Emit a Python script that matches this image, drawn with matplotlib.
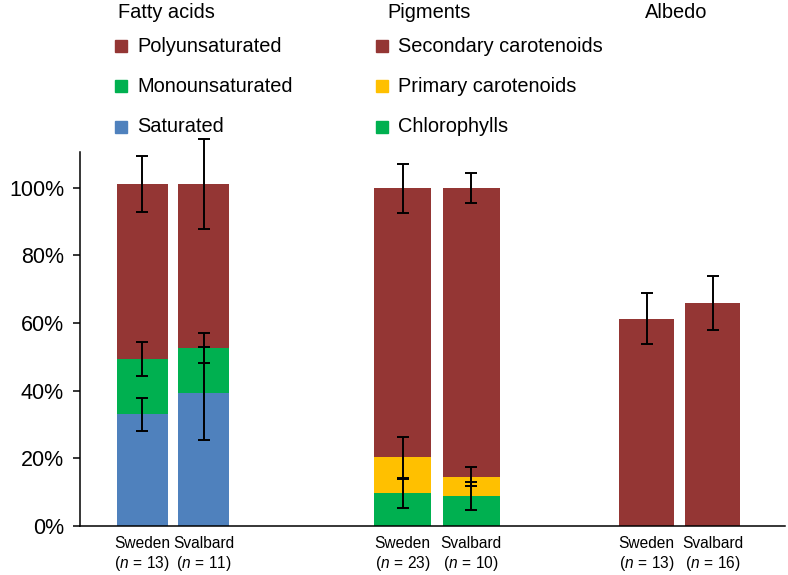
import matplotlib
matplotlib.use("Agg")
import matplotlib.pyplot as plt
import matplotlib.patches as patches
import numpy as np

plt.rcParams['font.family'] = ['Liberation Sans', 'DejaVu Sans']
plt.rcParams['mathtext.fontset'] = 'custom'
plt.rcParams['mathtext.rm'] = 'Liberation Sans'
plt.rcParams['mathtext.it'] = 'Liberation Sans:italic'

# colours (Excel-like palette of the reference)
RED = '#943634'
GREEN = '#00B050'
BLUE = '#4F81BD'
YELLOW = '#FFC000'

sites = ['Sweden', 'Svalbard']

# fatty acids (% of total), stacked bottom to top
fa_n = [13, 11]
fa_saturated = [33.0, 39.2]
fa_saturated_err = [4.8, 13.8]
fa_mono = [16.3, 13.4]
fa_mono_err = [5.1, 4.3]
fa_poly = [51.7, 48.4]
fa_poly_err = [8.3, 13.2]

# pigments (% of total), stacked bottom to top
pig_n = [23, 10]
pig_chl = [9.7, 8.8]
pig_chl_err = [4.3, 4.1]
pig_primary = [10.6, 5.8]
pig_primary_err = [6.0, 2.7]
pig_secondary = [79.5, 85.2]
pig_secondary_err = [7.2, 4.4]

# albedo (%)
alb_n = [13, 16]
albedo = [61.3, 66.0]
albedo_err = [7.5, 8.0]

yticks = [0, 20, 40, 60, 80, 100]

fig = plt.figure(figsize=(7.88, 5.75), dpi=100)
ax = fig.add_axes([80 / 788, 49 / 575, 705 / 788, 374 / 575])

# layout of the three groups (x in axis units)
group_centers = [92.75, 356.75, 599.5]
half_sep = [30.75, 34.25, 33.0]
widths = [51, 57, 55]


def pair_x(g):
    c = group_centers[g]
    return np.array([c - half_sep[g], c + half_sep[g]])


def stack(g, layers, colors, errs):
    x = pair_x(g)
    bottom = np.zeros(2)
    tops = []
    for vals, col in zip(layers, colors):
        ax.bar(x, vals, width=widths[g], bottom=bottom, color=col, zorder=2)
        bottom = bottom + np.array(vals)
        tops.append(bottom.copy())
    for t, e in zip(tops, errs):
        ax.errorbar(x, t, yerr=e, fmt='none', ecolor='black', elinewidth=1.4,
                    capsize=4.2, capthick=1.4, zorder=3, clip_on=False)


stack(0, [fa_saturated, fa_mono, fa_poly], [BLUE, GREEN, RED],
      [fa_saturated_err, fa_mono_err, fa_poly_err])
stack(1, [pig_chl, pig_primary, pig_secondary], [GREEN, YELLOW, RED],
      [pig_chl_err, pig_primary_err, pig_secondary_err])
stack(2, [albedo], [RED], [albedo_err])

# x tick labels
xt, xl = [], []
for g, ns in enumerate([fa_n, pig_n, alb_n]):
    for xi, s, n in zip(pair_x(g), sites, ns):
        xt.append(xi)
        xl.append(s + '\n' + r'$(\mathit{n}\,{=}\,' + str(n) + ')$')
ax.set_xticks(xt)
ax.set_xticklabels(xl, fontsize=11.2, linespacing=1.25)
ax.tick_params(axis='x', length=0, pad=7)

ax.set_yticks(yticks)
ax.set_yticklabels([f'{v}%' for v in yticks], fontsize=15.5)
ax.tick_params(axis='y', length=5, width=1.1, pad=6.5, direction='out')

ax.set_xlim(0, 705)
ax.set_ylim(0, 110.5)
for s in ['top', 'right']:
    ax.spines[s].set_visible(False)
for s in ['left', 'bottom']:
    ax.spines[s].set_linewidth(1.1)

# legend block at the top (figure pixel coordinates, y from top)
W, H = 788, 575


def ftext(x, y, s):
    fig.text(x / W, 1 - y / H, s, fontsize=14.4, va='center', ha='left')


def fsquare(x, y, col):
    fig.patches.append(patches.Rectangle((x / W, 1 - (y + 6) / H), 12 / W, 12 / H,
                                         color=col, transform=fig.transFigure))


ftext(118, 13, 'Fatty acids')
ftext(387, 13, 'Pigments')
ftext(645, 13, 'Albedo')

for (lab, col), y in zip([('Polyunsaturated', RED), ('Monounsaturated', GREEN), ('Saturated', BLUE)],
                         [46, 86, 127]):
    fsquare(115, y, col)
    ftext(137, y, lab)

for (lab, col), y in zip([('Secondary carotenoids', RED), ('Primary carotenoids', YELLOW),
                          ('Chlorophylls', GREEN)], [46, 86, 127]):
    fsquare(376, y, col)
    ftext(398, y, lab)

fig.savefig('out.png', dpi=100)
